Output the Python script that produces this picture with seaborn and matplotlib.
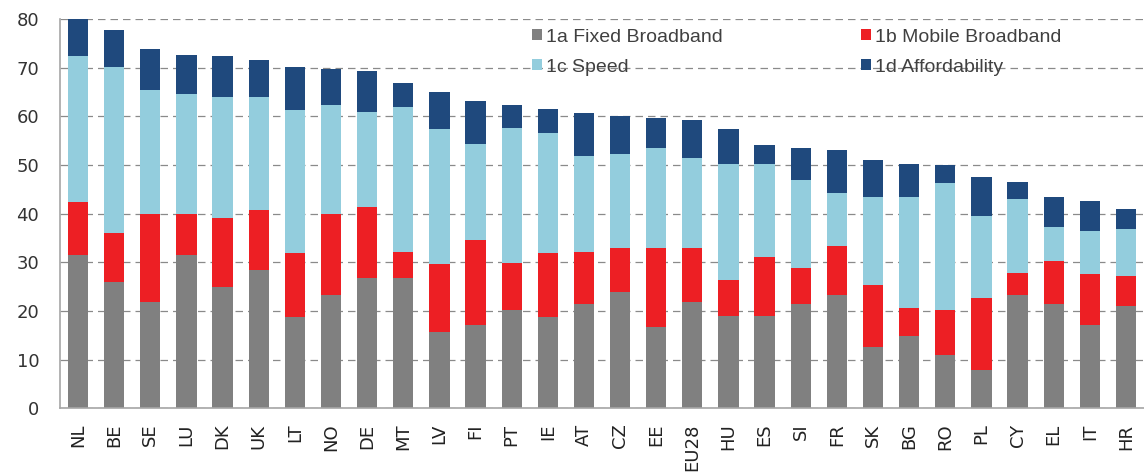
import numpy as np
import pandas as pd
import matplotlib
matplotlib.use('Agg')
import matplotlib.pyplot as plt
import seaborn as sns

# data
countries = ['NL', 'BE', 'SE', 'LU', 'DK', 'UK', 'LT', 'NO', 'DE', 'MT',
             'LV', 'FI', 'PT', 'IE', 'AT', 'CZ', 'EE', 'EU28', 'HU', 'ES',
             'SI', 'FR', 'SK', 'BG', 'RO', 'PL', 'CY', 'EL', 'IT', 'HR']
fixed_bb = [31.4, 26.0, 21.8, 31.4, 24.9, 28.4, 18.7, 23.3, 26.8, 26.8,
            15.6, 17.1, 20.2, 18.7, 21.4, 24.0, 16.8, 21.8, 19.0, 19.0,
            21.4, 23.3, 12.5, 14.8, 11.0, 7.9, 23.3, 21.4, 17.1, 21.0]
mobile_bb = [10.9, 10.1, 18.1, 8.5, 14.3, 12.3, 13.2, 16.6, 14.6, 5.4,
             14.0, 17.5, 9.7, 13.2, 10.8, 9.0, 16.2, 11.2, 7.4, 12.0,
             7.4, 10.1, 12.8, 5.9, 9.2, 14.7, 4.6, 8.9, 10.4, 6.2]
speed = [30.1, 34.0, 25.5, 24.7, 24.7, 23.2, 29.3, 22.4, 19.4, 29.8,
         27.7, 19.7, 27.8, 24.6, 19.7, 19.3, 20.4, 18.5, 23.9, 19.3,
         18.1, 10.8, 18.1, 22.7, 26.0, 16.9, 15.1, 6.9, 9.0, 9.6]
afford = [7.6, 7.6, 8.5, 8.1, 8.4, 7.7, 8.9, 7.4, 8.5, 4.9,
          7.7, 8.8, 4.6, 5.0, 8.8, 7.7, 6.2, 7.7, 7.0, 3.9,
          6.5, 8.8, 7.7, 6.9, 3.8, 8.1, 3.5, 6.2, 6.1, 4.2]
series = ['1a Fixed Broadband', '1b Mobile Broadband', '1c Speed', '1d Affordability']
colors = ['#808080', '#ED1F24', '#93CDDD', '#1F497D']

df = pd.DataFrame({'country': countries, series[0]: fixed_bb, series[1]: mobile_bb,
                   series[2]: speed, series[3]: afford})
cum = df[series].cumsum(axis=1)
cum['country'] = df['country']

fig = plt.figure(figsize=(11.44, 4.75), dpi=100)
ax = fig.add_axes([60/1144, 1 - 408.3/475, 1 - 60/1144, (408.3 - 19)/475])

# stacked bars: draw cumulative totals from the top layer down
for s, c in reversed(list(zip(series, colors))):
    sns.barplot(data=cum, x='country', y=s, color=c, width=0.56, saturation=1,
                ax=ax, label=s, zorder=2)

ax.set_ylim(0, 80)
ax.set_xlim(-0.5, len(countries) - 0.5)
ax.set_yticks(range(0, 81, 10))
ax.set_xlabel('')
ax.set_ylabel('')
ax.yaxis.grid(True, linestyle=(0, (6, 4)), color='#8a8a8a', linewidth=0.9, zorder=0)
ax.set_axisbelow(True)
for sp in ['top', 'right']:
    ax.spines[sp].set_visible(False)
for sp in ['left', 'bottom']:
    ax.spines[sp].set_color('#a6a6a6')
    ax.spines[sp].set_linewidth(1.2)
ax.tick_params(axis='y', length=0, pad=15, labelsize=13, labelcolor='#333333')
ax.tick_params(axis='x', length=0, pad=11, labelsize=13, labelcolor='#222222')
plt.setp(ax.get_xticklabels(), rotation=90)
for lab in ax.get_yticklabels() + ax.get_xticklabels():
    lab.set_family('DejaVu Sans')

handles, labels = ax.get_legend_handles_labels()
hmap = dict(zip(labels, handles))
order = [series[0], series[2], series[1], series[3]]
leg = ax.legend([hmap[o] for o in order], order, ncol=2, frameon=False,
                loc='upper left', bbox_to_anchor=(0.419, 1.02),
                handlelength=0.52, handleheight=0.52, handletextpad=0.2,
                columnspacing=7.1, labelspacing=0.66,
                prop={'family': 'Liberation Sans', 'size': 14})
for t in leg.get_texts():
    t.set_color('#404040')

fig.savefig('out.png', dpi=100)
